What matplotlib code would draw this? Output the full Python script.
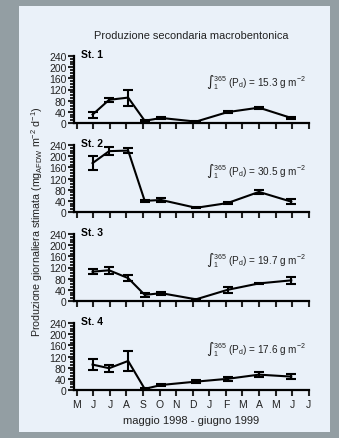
import matplotlib
matplotlib.use("Agg")
import numpy as np
import matplotlib.pyplot as plt
from matplotlib.patches import Rectangle
from matplotlib.ticker import MultipleLocator

plt.rcParams['font.family'] = ['Liberation Sans', 'DejaVu Sans']
plt.rcParams['mathtext.default'] = 'regular'

# month ticks, May 1998 - June 1999
months = ['M', 'J', 'J', 'A', 'S', 'O', 'N', 'D', 'J', 'F', 'M', 'A', 'M', 'J', 'J']
# sampling dates as month index (0 = May 1998)
x_samp = [0.95, 1.95, 3.1, 4.1, 5.1, 7.2, 9.1, 11.0, 12.95]

stations = ['St. 1', 'St. 2', 'St. 3', 'St. 4']
st1 = [30, 83, 91, 8, 18, 5, 39, 55, 18]
st1_err = [11, 7, 29, 3, 3, 2, 4, 4, 3]
st2 = [175, 218, 220, 40, 43, 15, 32, 72, 37]
st2_err = [25, 15, 8, 3, 6, 2, 4, 8, 8]
st3 = [105, 110, 82, 22, 28, 6, 40, 63, 74]
st3_err = [10, 12, 12, 7, 6, 2, 10, 3, 12]
st4 = [91, 78, 104, 4, 18, 30, 40, 55, 48]
st4_err = [21, 13, 36, 2, 3, 6, 6, 10, 10]
totals = ['15.3', '30.5', '19.7', '17.6']

values = [st1, st2, st3, st4]
errors = [st1_err, st2_err, st3_err, st4_err]

W, H = 339, 439
fig = plt.figure(figsize=(W / 100, H / 100), dpi=100, facecolor='#939ea3')
fig.patches.append(Rectangle((19 / W, 1 - 433 / H), 311 / W, 426 / H,
                             transform=fig.transFigure, facecolor='#eaf1f9',
                             edgecolor='none', zorder=-10))

left = 73.5 / W
width = (309 - 73.5) / W
bottoms_px = [124, 213, 302, 391]
ax_h = 67 / H
txt = '#222222'

axes = []
for i in range(4):
    ax = fig.add_axes([left, 1 - bottoms_px[i] / H, width, ax_h])
    ax.set_facecolor('none')
    ax.errorbar(x_samp, values[i], yerr=errors[i], color='black', lw=1.5,
                elinewidth=1.5, capsize=3.3, capthick=1.5, clip_on=False)
    ax.set_xlim(-0.2, 14.02)
    ax.set_ylim(0, 240)
    ax.yaxis.set_major_locator(MultipleLocator(40))
    ax.yaxis.set_minor_locator(MultipleLocator(10))
    ax.set_xticks(range(len(months)))
    for s in ['top', 'right']:
        ax.spines[s].set_visible(False)
    for s in ['left', 'bottom']:
        ax.spines[s].set_linewidth(1.6)
    ax.tick_params(axis='y', which='major', length=4, width=1.5, pad=1,
                   labelsize=7.5, colors=txt)
    ax.tick_params(axis='y', which='minor', length=3, width=1.2)
    ax.tick_params(axis='x', which='major', length=4, width=1.5, pad=2.5,
                   labelsize=7.5, colors=txt)
    if i < 3:
        ax.set_xticklabels([])
    else:
        ax.set_xticklabels(months)
        ax.set_xlabel('maggio 1998 - giugno 1999', fontsize=8, labelpad=4,
                      color=txt)
    ax.text(0.03, 1.03, stations[i], transform=ax.transAxes, fontsize=7.5,
            fontweight='bold', va='center', ha='left')
    ax.text(0.985, 0.62,
            '\u222b' + r'$_{1}^{365}$ (P$_{d}$) = ' + totals[i] + r' g m$^{-2}$',
            transform=ax.transAxes, fontsize=7.2, ha='right', va='center',
            color=txt)
    axes.append(ax)

axes[0].set_title('Produzione secondaria macrobentonica', fontsize=7.9,
                  pad=13, color=txt)
fig.text(37 / W, 1 - 222 / H,
         r'Produzione giornaliera stimata (mg$_{AFDW}$ m$^{-2}$ d$^{-1}$)',
         rotation=90, fontsize=7.7, ha='center', va='center', color=txt)

fig.savefig('out.png', dpi=100, facecolor=fig.get_facecolor())
